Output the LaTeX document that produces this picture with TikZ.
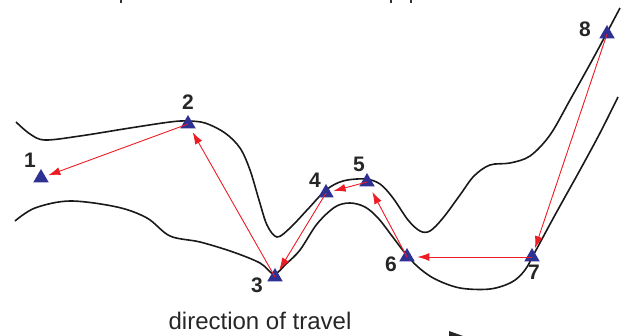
\documentclass[tikz,border=0pt]{standalone}
\usepackage{fontspec}
\setmainfont{Liberation Sans}
\usetikzlibrary{arrows.meta,shapes.geometric}
\definecolor{tri}{RGB}{46,49,146}
\definecolor{arr}{RGB}{237,28,36}
\tikzset{
  marker/.style={regular polygon, regular polygon sides=3, fill=tri, inner sep=0pt, minimum size=18pt},
  num/.style={font=\fontsize{21}{24}\selectfont\bfseries, inner sep=0pt, text=black!85},
  track/.style={line width=1.6pt, black!90},
  move/.style={draw=arr, line width=0.9pt, -{Latex[length=12pt,width=8pt]}, shorten >=3pt}
}
\begin{document}
\begin{tikzpicture}[x=1pt,y=-1pt]
\useasboundingbox (0,0) rectangle (634,336);
% cut-off fragments at the edges
\fill[black!80] (120,0) rectangle (122,3);
\fill[black!80] (390,0) rectangle (392,3);
\fill[black!80] (410,0) rectangle (412,3);
\fill[black!85] (449,331) -- (463,336) -- (449,336) -- cycle;
% track boundaries
\draw[track] plot[smooth, tension=0.55] coordinates {(16,122) (30,134) (45,140) (80,136) (130,128) (170,122) (187,121) (205,123) (225,133) (240,148) (250,170) (259,200) (267,225) (277,237) (290,228) (308,209) (326,190) (343,181) (365,179) (380,184) (393,198) (408,220) (420,231) (430,231) (443,218) (460,195) (474,176) (490,165) (510,163) (530,156) (550,135) (570,100) (595,55) (620,8)};
\draw[track] plot[smooth, tension=0.55] coordinates {(15,221) (35,208) (70,201) (117,207) (147,218) (170,236) (200,242) (233,252) (260,263) (274,274) (286,264) (300,250) (317,224) (335,207) (350,203) (365,207) (378,218) (392,236) (405,253) (418,267) (435,279) (460,288) (490,289) (512,282) (525,270) (535,252) (555,215) (580,170) (600,133) (618,97)};
% markers
\node[marker] (t1) at (41,178) {};
\node[marker] (t2) at (188,124) {};
\node[marker] (t3) at (275,277) {};
\node[marker] (t4) at (326,193) {};
\node[marker] (t5) at (367,182) {};
\node[marker] (t6) at (407,257) {};
\node[marker] (t7) at (532,257) {};
\node[marker] (t8) at (607,34) {};
% labels
\node[num] (l1) at (30,160) {1};
\node[num] (l2) at (188,102) {2};
\node[num] (l3) at (257,285) {3};
\node[num] (l4) at (315,180) {4};
\node[num] (l5) at (359,164) {5};
\node[num] (l6) at (391,264) {6};
\node[num] (l7) at (534,272) {7};
\node[num] (l8) at (585,29) {8};
% moves
\draw[move] (t2.center) -- (t1);
\draw[move, shorten >=4pt] (t3.center) -- (t2);
\draw[move] (t4.center) -- (t3);
\draw[move] (t5.center) -- (t4);
\draw[move, shorten >=6pt] (t6.center) -- (t5);
\draw[move, shorten >=5pt] (t7.center) -- (t6);
\draw[move] (t8.center) -- (t7);
% caption
\node[anchor=base, inner sep=0pt, font=\fontsize{24}{28}\selectfont, text=black!85] (cap) at (260,330) {direction of travel};
\end{tikzpicture}
\end{document}
